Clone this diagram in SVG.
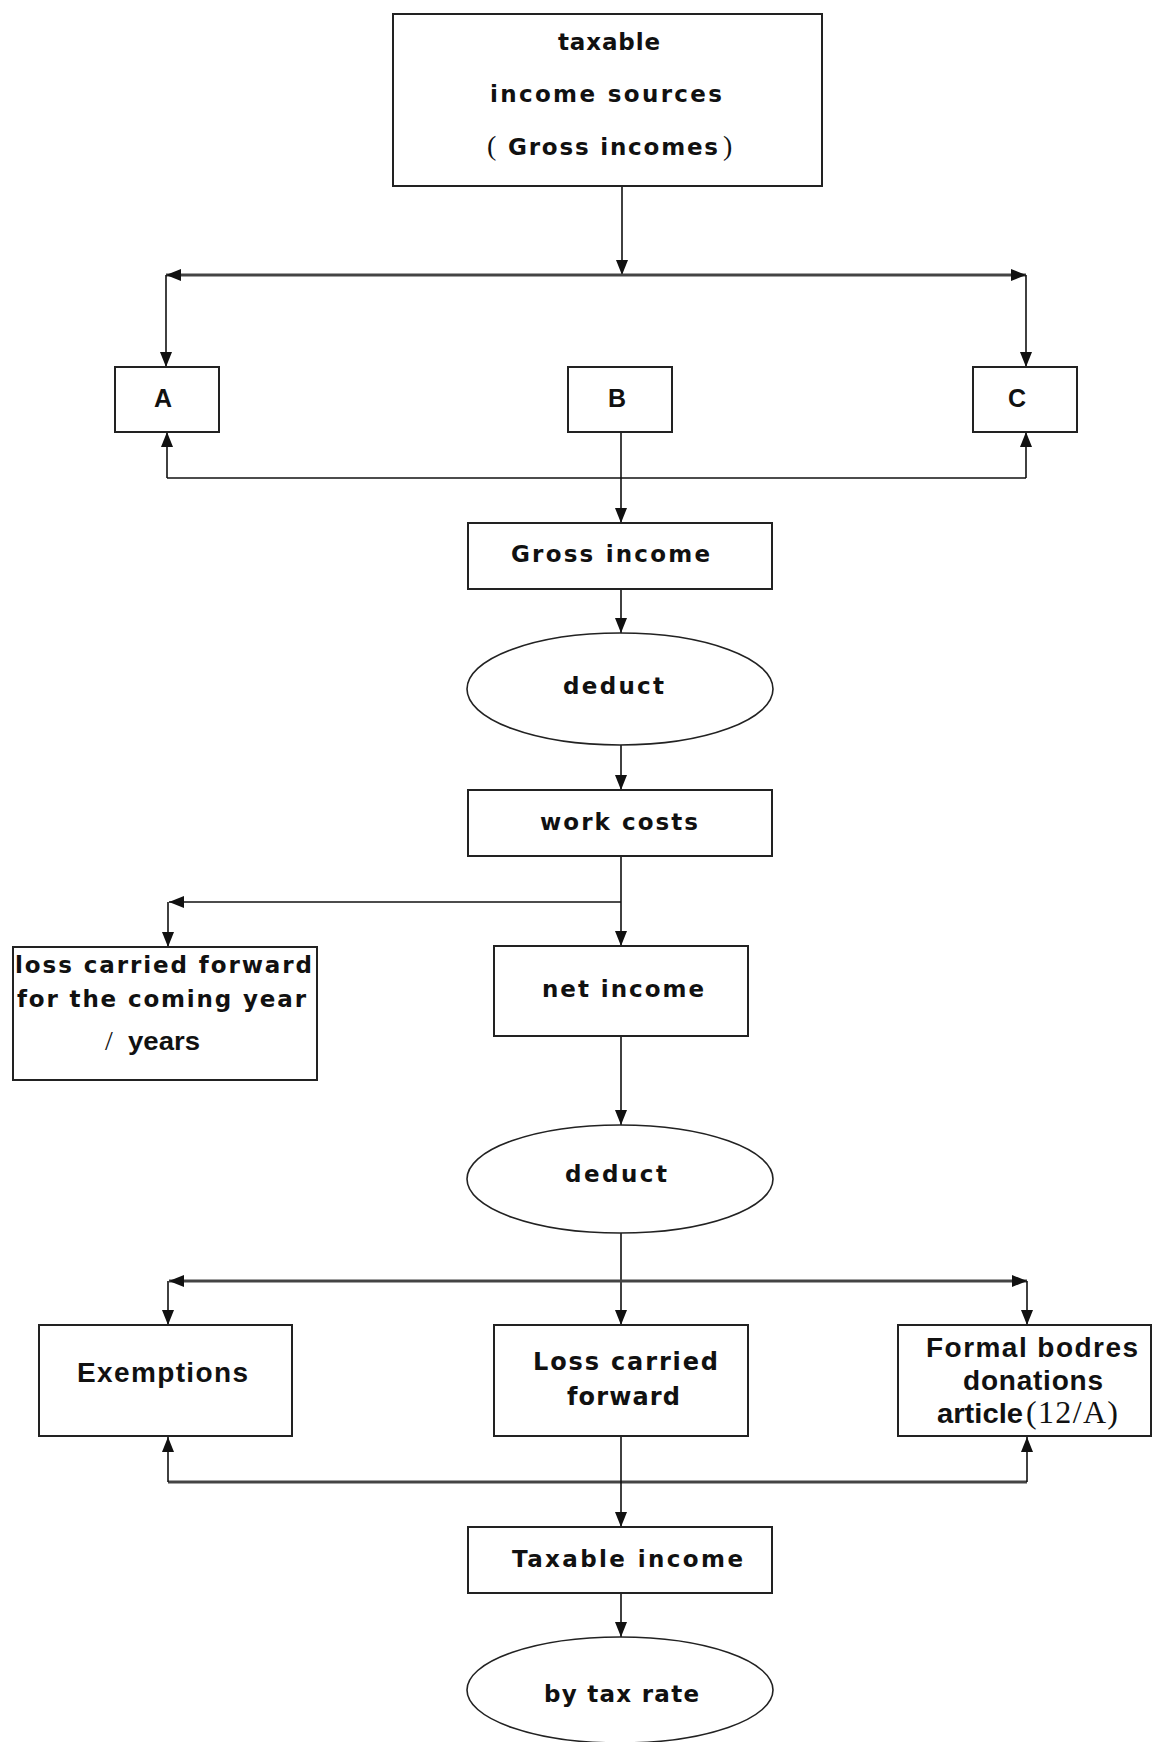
<svg xmlns="http://www.w3.org/2000/svg" width="1152" height="1742" viewBox="0 0 1152 1742">
<style>
.box{fill:#fff;stroke:#222;stroke-width:2}
.ell{fill:#fff;stroke:#222;stroke-width:1.6}
.t{font-family:"Liberation Sans",Arial,sans-serif;font-weight:bold;fill:#111}
.d{font-family:"DejaVu Sans",Verdana,sans-serif;font-weight:bold;fill:#111}
.s{font-family:"Liberation Serif","Times New Roman",serif;font-weight:normal;fill:#111}
.c{fill:none;stroke:#111;stroke-width:1.6}
.bar{fill:none;stroke:#444;stroke-width:3}
</style>
<defs>
<marker id="ah" markerUnits="userSpaceOnUse" markerWidth="15" markerHeight="12" viewBox="0 0 15 12" refX="15" refY="6" orient="auto-start-reverse">
<path d="M0,0 L15,6 L0,12 z" fill="#111"/>
</marker>
</defs>
<rect width="1152" height="1742" fill="#fff"/>
<g id="connectors">
<path class="c" d="M622,187 V275" marker-end="url(#ah)"/>
<path class="bar" d="M166,275 H1026" marker-start="url(#ah)" marker-end="url(#ah)"/>
<path class="c" d="M166,275 V367" marker-end="url(#ah)"/>
<path class="c" d="M1026,275 V367" marker-end="url(#ah)"/>
<path class="c" d="M621,432 V523" marker-end="url(#ah)"/>
<path class="c" stroke-width="2" d="M167,478 H1026"/>
<path class="c" d="M167,478 V432" marker-end="url(#ah)"/>
<path class="c" d="M1026,478 V432" marker-end="url(#ah)"/>
<path class="c" d="M621,589 V633" marker-end="url(#ah)"/>
<path class="c" d="M621,745 V790" marker-end="url(#ah)"/>
<path class="c" d="M621,856 V946" marker-end="url(#ah)"/>
<path class="c" d="M621,902 H169" marker-end="url(#ah)"/>
<path class="c" d="M168,902 V947" marker-end="url(#ah)"/>
<path class="c" d="M621,1036 V1125" marker-end="url(#ah)"/>
<path class="c" d="M621,1233 V1325" marker-end="url(#ah)"/>
<path class="bar" d="M169,1281 H1027" marker-start="url(#ah)" marker-end="url(#ah)"/>
<path class="c" d="M168,1281 V1325" marker-end="url(#ah)"/>
<path class="c" d="M1027,1281 V1325" marker-end="url(#ah)"/>
<path class="bar" d="M168,1482 H1027"/>
<path class="c" d="M168,1482 V1437" marker-end="url(#ah)"/>
<path class="c" d="M1027,1482 V1437" marker-end="url(#ah)"/>
<path class="c" d="M621,1437 V1527" marker-end="url(#ah)"/>
<path class="c" d="M621,1593 V1637" marker-end="url(#ah)"/>
</g>
<g id="n-sources">
<rect class="box" x="393" y="14" width="429" height="172"/>
<text class="d" x="558" y="50" font-size="23" textLength="102" lengthAdjust="spacing">taxable</text>
<text class="d" x="490" y="102" font-size="23" textLength="232" lengthAdjust="spacing">income sources</text>
<text class="s" x="487" y="155" font-size="28">(</text>
<text class="d" x="508" y="155" font-size="23" textLength="210" lengthAdjust="spacing">Gross incomes</text>
<text class="s" x="723" y="155" font-size="28">)</text>
</g>
<g id="n-A">
<rect class="box" x="115" y="367" width="104" height="65"/>
<text class="t" x="154" y="407" font-size="25">A</text>
</g>
<g id="n-B">
<rect class="box" x="568" y="367" width="104" height="65"/>
<text class="t" x="608" y="407" font-size="25">B</text>
</g>
<g id="n-C">
<rect class="box" x="973" y="367" width="104" height="65"/>
<text class="t" x="1008" y="407" font-size="25">C</text>
</g>
<g id="n-gross">
<rect class="box" x="468" y="523" width="304" height="66"/>
<text class="d" x="511" y="562" font-size="23" textLength="199" lengthAdjust="spacing">Gross income</text>
</g>
<g id="n-deduct1">
<ellipse class="ell" cx="620" cy="689" rx="153" ry="56"/>
<text class="d" x="563" y="694" font-size="23" textLength="101" lengthAdjust="spacing">deduct</text>
</g>
<g id="n-work">
<rect class="box" x="468" y="790" width="304" height="66"/>
<text class="d" x="540" y="830" font-size="23" textLength="158" lengthAdjust="spacing">work costs</text>
</g>
<g id="n-loss-next">
<rect class="box" x="13" y="947" width="304" height="133"/>
<text class="d" x="15" y="973" font-size="23" textLength="297" lengthAdjust="spacing">loss carried forward</text>
<text class="d" x="17" y="1007" font-size="23" textLength="289" lengthAdjust="spacing">for the coming year</text>
<text class="s" x="105" y="1050" font-size="28">/</text>
<text class="t" x="128" y="1050" font-size="25" textLength="72" lengthAdjust="spacingAndGlyphs">years</text>
</g>
<g id="n-net">
<rect class="box" x="494" y="946" width="254" height="90"/>
<text class="d" x="542" y="997" font-size="23" textLength="162" lengthAdjust="spacing">net income</text>
</g>
<g id="n-deduct2">
<ellipse class="ell" cx="620" cy="1179" rx="153" ry="54"/>
<text class="d" x="565" y="1182" font-size="23" textLength="102" lengthAdjust="spacing">deduct</text>
</g>
<g id="n-exemptions">
<rect class="box" x="39" y="1325" width="253" height="111"/>
<text class="t" x="77" y="1382" font-size="28" textLength="171" lengthAdjust="spacing">Exemptions</text>
</g>
<g id="n-losscf">
<rect class="box" x="494" y="1325" width="254" height="111"/>
<text class="d" x="533" y="1370" font-size="24" textLength="185" lengthAdjust="spacing">Loss carried</text>
<text class="d" x="567" y="1405" font-size="24" textLength="113" lengthAdjust="spacing">forward</text>
</g>
<g id="n-formal">
<rect class="box" x="898" y="1325" width="253" height="111"/>
<text class="t" x="926" y="1357" font-size="28" textLength="212" lengthAdjust="spacing">Formal bodres</text>
<text class="t" x="963" y="1390" font-size="28" textLength="140" lengthAdjust="spacing">donations</text>
<text class="t" x="937" y="1423" font-size="28" textLength="86" lengthAdjust="spacingAndGlyphs">article</text>
<text class="s" x="1026" y="1423" font-size="32" textLength="92" lengthAdjust="spacing">(12/A)</text>
</g>
<g id="n-taxable">
<rect class="box" x="468" y="1527" width="304" height="66"/>
<text class="d" x="512" y="1567" font-size="23" textLength="231" lengthAdjust="spacing">Taxable income</text>
</g>
<g id="n-rate">
<ellipse class="ell" cx="620" cy="1690" rx="153" ry="53"/>
<text class="d" x="544" y="1702" font-size="23" textLength="155" lengthAdjust="spacing">by tax rate</text>
</g>
</svg>
